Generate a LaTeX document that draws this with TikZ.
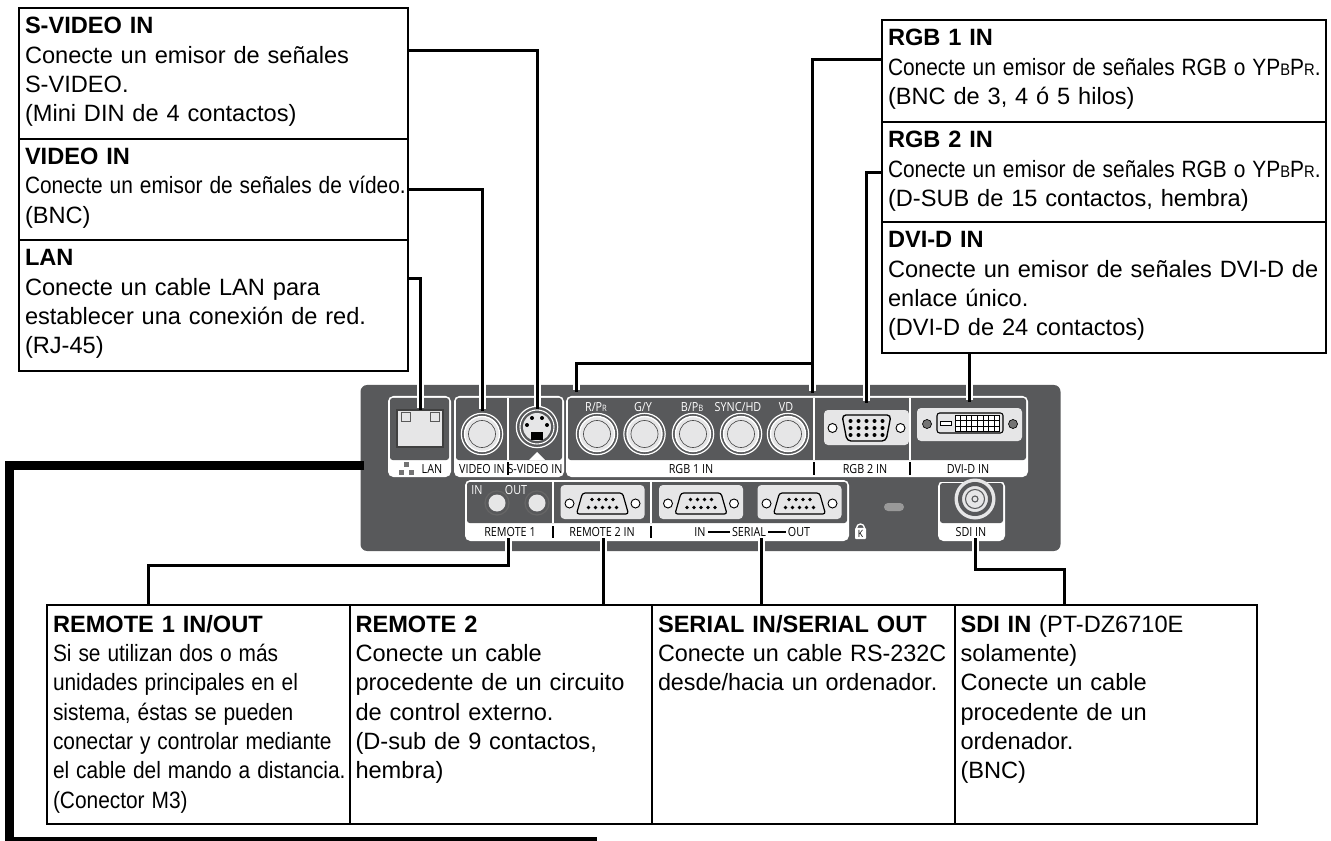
\documentclass[tikz,border=0pt]{standalone}
\usepackage{fontspec}
\usepackage{graphicx}
\setmainfont{Liberation Sans}
\newfontfamily\panelfont[FakeStretch=.86]{Open Sans}
\usetikzlibrary{positioning}
\definecolor{panelgray}{HTML}{58595B}
\definecolor{platelight}{HTML}{E6E6E7}
\newcommand{\squeezed}[2][.885]{\scalebox{#1}[1]{#2}}
\newcommand{\smallpart}[1]{{\fontsize{12.5}{22}\selectfont #1}}
\tikzset{
  infobox/.style={draw, line width=1.5pt, outer sep=0pt, inner xsep=4.5pt, inner ysep=0pt, align=left, text height=19.5pt, font=\fontsize{17.7}{22}\selectfont},
  leftinfo/.style={infobox, text width=282.75pt},
  rightinfo/.style={infobox, text width=324pt},
  bottominfo/.style={infobox, text width=217.875pt, text height=20.25pt, text depth=144pt},
  conn/.style={line width=2.25pt, preaction={draw=white, line width=5.25pt, shorten <=1.5pt, shorten >=1.5pt}},
  plate/.style={fill=platelight, rounded corners=3pt, outer sep=0pt, inner sep=0pt},
  jack/.style={circle, draw=white, line width=.9pt, fill=panelgray, inner sep=0pt, outer sep=0pt, minimum size=31pt},
  panellabel/.style={inner sep=0pt, font=\panelfont\fontsize{9.4}{10}\selectfont},
  darklabel/.style={panellabel, text=white},
  tick/.style={line width=1.2pt},
  dnine/.pic={
    \draw[fill=platelight, line width=.9pt, rounded corners=2pt] (-20,-10.5) -- (20,-10.5) -- (26,10.5) -- (-26,10.5) -- cycle;
    \foreach \k in {-1.5,-.5,.5,1.5} \fill (\k*7,-4) circle (1.9);
    \foreach \k in {-2,-1,0,1,2} \fill (\k*7,4) circle (1.9);
    \foreach \k in {-33,33} \draw[fill=white, line width=.7pt] (\k,0) circle (4.5);
  },
}
\begin{document}
\begin{tikzpicture}[x=.75pt, y=-.75pt]
  \useasboundingbox (0,0) rectangle (1331,841);

  % rear panel
  \node[fill=panelgray, rounded corners=5pt, outer sep=0pt, inner sep=0pt, minimum width=525pt, minimum height=124.5pt] (panel) at (710.5,468) {};
  \foreach \xa/\ya/\xb/\yb/\ym in {388/396/451/477/460, 454/396/564/477/460, 566/396/1028/477/460, 465/480/849/541/523, 938/481/1005/541/523} {
    \fill[white, rounded corners=4pt] (\xa,\ya) rectangle (\xb,\yb);
    \fill[panelgray, rounded corners=2pt] (\xa+2,\ya+2) rectangle (\xb-2,\ym);
  }
  \fill[panelgray] (938,478) rectangle (1005,482);
  \foreach \xc/\ya/\yb in {508/398/460, 814/398/460, 910/398/460, 553/482/523, 651/482/523}
    \draw[white, line width=1.2pt] (\xc,\ya) -- (\xc,\yb);
  \foreach \xc/\ya/\yb in {508/462/475, 814/462/475, 910/462/475, 553/526/538, 651/526/538}
    \draw[tick] (\xc,\ya) -- (\xc,\yb);

  % ports
  \node[fill=platelight, draw=black!75, line width=1.2pt, outer sep=0pt, inner sep=0pt, minimum width=34.5pt, minimum height=27.75pt] (lanport) at (420,428.5) {};
  \draw[black!65, line width=.6pt] (lanport.north west) ++(4,2) rectangle ++(9,9);
  \draw[black!65, line width=.6pt] (lanport.north east) ++(-4,2) rectangle ++(-9,9);
  \foreach \portname/\xc in {videoport/482, rport/597, gport/644.5, bport/693, syncport/741, vdport/788} {
    \node[jack] (\portname) at (\xc,434) {};
    \draw[white, line width=1pt, fill=platelight] (\xc,434) circle (17.5);
    \draw[black!70, line width=.5pt] (\xc,434) circle (13.5);
  }
  \node[jack] (svideoport) at (537,427) {};
  \fill[platelight] (537,427) circle (14);
  \draw[white, line width=.8pt] (537,427) circle (17);
  \foreach \xo/\yo in {-10/-2, 10/-2, -5/-9, 5/-9} \fill[black] (537+\xo,427+\yo) circle (2);
  \fill[black] (531,432) rectangle (543,440);
  \fill[white] (537,452) -- (545,460) -- (529,460) -- cycle;

  \node[plate, minimum width=63.75pt, minimum height=26.25pt] (rgbtwoport) at (866.5,427.5) {};
  \draw[line width=1pt, rounded corners=3pt] (842,415) -- (891,415) -- (886,441) -- (847,441) -- cycle;
  \foreach \rowy in {421,428,435} \foreach \k in {-2,-1,0,1,2} \fill (866.5+\k*8,\rowy) circle (2);
  \foreach \xo in {-34,34} \draw[fill=white, line width=.7pt] (866.5+\xo,428) circle (4.5);

  \node[plate, minimum width=78.75pt, minimum height=24.75pt] (dviport) at (969.5,424.5) {};
  \draw[line width=.8pt, rounded corners=2pt] (937,413) rectangle (1003,433);
  \fill[white] (940,421) rectangle (951,425);
  \draw[line width=.5pt] (940,421) rectangle (951,425);
  \foreach \k in {0,...,7} \foreach \j in {0,1,2} \draw[fill=white, line width=.6pt] (955+\k*5.6,415+\j*5.5) rectangle ++(5.6,5.5);
  \foreach \xo in {927,1013} \draw[fill=black!55, line width=.5pt] (\xo,424) circle (4.5);

  \foreach \portname/\xc in {remoteinport/497, remoteoutport/537} {
    \node[jack, minimum size=18pt, draw=black!60] (\portname) at (\xc,503) {};
    \fill[platelight] (\xc,503) circle (8.5);
  }
  \foreach \portname/\xc in {remotetwoport/602.5, serialinport/701, serialoutport/799.5} {
    \node[plate, minimum width=63pt, minimum height=25.5pt] (\portname) at (\xc,502) {};
    \pic at (\xc,503.5) {dnine};
  }
  \node[fill=black!40, rounded corners=3pt, inner sep=0pt, minimum width=15pt, minimum height=6pt] (lockslot) at (894,507) {};
  \node[circle, fill=platelight, inner sep=0pt, minimum size=30.75pt] (sdiport) at (975,499) {};
  \draw[panelgray, line width=3pt] (975,499) circle (15);
  \draw[panelgray, line width=.8pt] (975,499) circle (9.5);
  \draw[panelgray, line width=.8pt] (975,499) circle (3);

  % panel labels
  \node[panellabel] (lanlabel) at (432,469) {LAN};
  \foreach \xo/\yo in {406/464, 401/472, 411/472} \fill[black!55] (\xo-2.5,\yo-2.5) rectangle ++(5,5);
  \node[panellabel] (videolabel) at (482,469) {VIDEO IN};
  \node[panellabel] (svideolabel) at (535,469) {S-VIDEO IN};
  \node[panellabel] (rgbonelabel) at (691,469) {RGB 1 IN};
  \node[panellabel] (rgbtwolabel) at (865,469) {RGB 2 IN};
  \node[panellabel] (dvilabel) at (968,469) {DVI-D IN};
  \node[panellabel] (remoteonelabel) at (510,532) {REMOTE 1};
  \node[panellabel] (remotetwolabel) at (602,532) {REMOTE 2 IN};
  \node[panellabel] (serialinlabel) at (700,532) {IN};
  \node[panellabel] (seriallabel) at (749,532) {SERIAL};
  \node[panellabel] (serialoutlabel) at (799,532) {OUT};
  \draw[line width=.9pt] (serialinlabel.east) ++(2,0) -- ([xshift=-1.5pt]seriallabel.west);
  \draw[line width=.9pt] (seriallabel.east) ++(2,0) -- ([xshift=-1.5pt]serialoutlabel.west);
  \node[panellabel] (sdilabel) at (971,532) {SDI IN};
  \node[darklabel] (plabel) at (596,407) {R/P{\fontsize{6.6}{8}\selectfont R}};
  \node[darklabel] (glabel) at (643,407) {G/Y};
  \node[darklabel] (blabel) at (692,407) {B/P{\fontsize{6.6}{8}\selectfont B}};
  \node[darklabel] (synclabel) at (738,407) {SYNC/HD};
  \node[darklabel] (vdlabel) at (786,407) {VD};
  \node[darklabel] (inlabel) at (477,490) {IN};
  \node[darklabel] (outlabel) at (516,490) {OUT};
  \node[fill=white, inner sep=0pt, minimum width=8.25pt, minimum height=8.5pt, rounded corners=.8pt, font=\panelfont\fontsize{7.5}{8}\selectfont] (lockk) at (860.5,533.5) {K};
  \draw[white, line width=1pt] (856.5,528) arc[start angle=180, end angle=360, x radius=4, y radius=4];

  % boxes, left
  \node[leftinfo, text depth=78.4pt, anchor=north west] (svideoinfo) at (19,8) {\textbf{S-VIDEO IN}\\Conecte un emisor de señales\\S-VIDEO.\\(Mini DIN de 4 contactos)};
  \node[leftinfo, text depth=56.6pt, below=0pt of svideoinfo] (videoinfo) {\textbf{VIDEO IN}\\\squeezed{Conecte un emisor de señales de vídeo.}\\(BNC)};
  \node[leftinfo, text depth=78.4pt, below=0pt of videoinfo] (laninfo) {\textbf{LAN}\\Conecte un cable LAN para\\establecer una conexión de red.\\(RJ-45)};

  % boxes, right
  \node[rightinfo, text depth=57pt, anchor=north west] (rgboneinfo) at (882,20) {\textbf{RGB 1 IN}\\\squeezed{Conecte un emisor de señales RGB o YP\smallpart{B}P\smallpart{R}.}\\(BNC de 3, 4 ó 5 hilos)};
  \node[rightinfo, text depth=55.5pt, below=0pt of rgboneinfo] (rgbtwoinfo) {\textbf{RGB 2 IN}\\\squeezed{Conecte un emisor de señales RGB o YP\smallpart{B}P\smallpart{R}.}\\(D-SUB de 15 contactos, hembra)};
  \node[rightinfo, text depth=78.75pt, below=0pt of rgbtwoinfo] (dviinfo) {\textbf{DVI-D IN}\\Conecte un emisor de señales DVI-D de\\enlace único.\\(DVI-D de 24 contactos)};

  % boxes, bottom
  \node[bottominfo, anchor=north west] (remoteoneinfo) at (47,605) {\textbf{REMOTE 1 IN/OUT}\\\squeezed{Si se utilizan dos o más}\\\squeezed{unidades principales en el}\\\squeezed{sistema, éstas se pueden}\\\squeezed{conectar y controlar mediante}\\\squeezed{el cable del mando a distancia.}\\\squeezed{(Conector M3)}};
  \node[bottominfo, right=0pt of remoteoneinfo] (remotetwoinfo) {\textbf{REMOTE 2}\\Conecte un cable\\procedente de un circuito\\de control externo.\\(D-sub de 9 contactos,\\hembra)};
  \node[bottominfo, right=0pt of remotetwoinfo] (serialinfo) {\textbf{SERIAL IN/SERIAL OUT}\\\squeezed[.99]{Conecte un cable RS-232C}\\\squeezed[.99]{desde/hacia un ordenador.}};
  \node[bottominfo, right=0pt of serialinfo] (sdiinfo) {\textbf{SDI IN} (PT-DZ6710E\\solamente)\\Conecte un cable\\procedente de un\\ordenador.\\(BNC)};

  % connector ends that touch no node
  \coordinate (rgbonejoint) at (812,364);
  \coordinate (rgboneleft) at (576,392);
  \coordinate (rgboneright) at (812,393);
  \coordinate (remoteonetip) at (508,538);
  \coordinate (remoteonedrop) at (148,605);
  \coordinate (remotetwotip) at (603.5,538);
  \coordinate (serialtip) at (761,538);
  \coordinate (sditip) at (975.5,538);
  \coordinate (sdidrop) at (1064,605);
  \coordinate (leftbarstart) at (364,465.5);
  \coordinate (leftbarcorner) at (9.5,841.5);
  \coordinate (leftbarend) at (597,841.5);

  % connectors
  \draw[conn] (svideoinfo.north east) ++(0,42.7) -| ([yshift=-2.25pt]svideoport.north);
  \draw[conn] (videoinfo.north east) ++(0,50.5) -| ([yshift=1.5pt]videoport.north);
  \draw[conn] (laninfo.north east) ++(0,39) -| (lanport.north);
  \draw[conn] (rgboneinfo.north west) ++(0,39.3) -| (rgboneright);
  \draw[conn] (rgbonejoint) -| (rgboneleft);
  \draw[conn] (rgbtwoinfo.north west) ++(0,50.7) -| ([yshift=5.25pt]rgbtwoport.north);
  \draw[conn] (dviinfo.south -| dviport) -- ([yshift=4.5pt]dviport.north);
  \draw[conn] (remoteonetip) -- ++(0,27) -| (remoteonedrop);
  \draw[conn] (remotetwotip) -- (remotetwotip |- remotetwoinfo.north);
  \draw[conn] (serialtip) -- (serialtip |- serialinfo.north);
  \draw[conn] (sditip) -- ++(0,31) -| (sdidrop);
  \draw[line width=6.75pt] (leftbarstart) -| (leftbarcorner) -- (leftbarend);
\end{tikzpicture}
\end{document}
